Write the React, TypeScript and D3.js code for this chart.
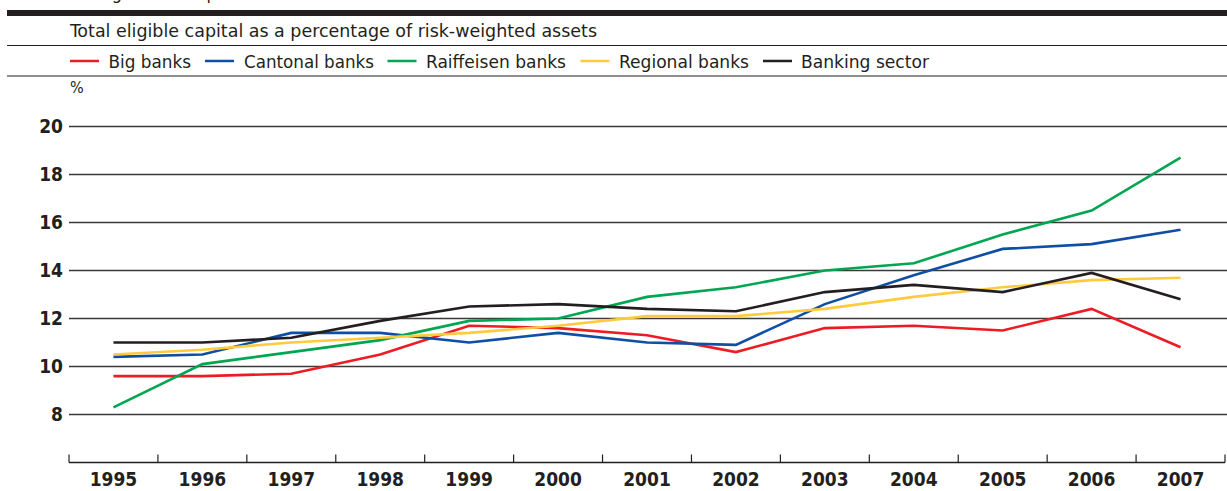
import React from "react";
import * as d3 from "d3";

const years = ["1995","1996","1997","1998","1999","2000","2001","2002","2003","2004","2005","2006","2007"];
const bigBanks = [9.6, 9.6, 9.7, 10.5, 11.7, 11.6, 11.3, 10.6, 11.6, 11.7, 11.5, 12.4, 10.8];
const cantonalBanks = [10.4, 10.5, 11.4, 11.4, 11.0, 11.4, 11.0, 10.9, 12.6, 13.8, 14.9, 15.1, 15.7];
const raiffeisenBanks = [8.3, 10.1, 10.6, 11.1, 11.9, 12.0, 12.9, 13.3, 14.0, 14.3, 15.5, 16.5, 18.7];
const regionalBanks = [10.5, 10.7, 11.0, 11.2, 11.4, 11.7, 12.1, 12.1, 12.4, 12.9, 13.3, 13.6, 13.7];
const bankingSector = [11.0, 11.0, 11.2, 11.9, 12.5, 12.6, 12.4, 12.3, 13.1, 13.4, 13.1, 13.9, 12.8];
const yTicks = [8, 10, 12, 14, 16, 18, 20];

const seriesNames = ["Big banks", "Cantonal banks", "Raiffeisen banks", "Regional banks", "Banking sector"];
const seriesValues = [bigBanks, cantonalBanks, raiffeisenBanks, regionalBanks, bankingSector];
const seriesColors = ["#ed1c24", "#0f4fa3", "#00a651", "#ffcb3d", "#231f20"];

// legend layout (line start x, text start x, text width)
const legendLayout = [
  [70, 108.5, 82.5],
  [205, 244, 130],
  [387.5, 426, 140],
  [580.5, 619, 130],
  [763, 801, 128],
];

const W = 1227;
const H = 491;
const FONT = "'DejaVu Sans Condensed', 'DejaVu Sans', sans-serif";

export default function App() {
  const x = d3.scaleBand<string>().domain(years).range([69, 1225]).padding(0);
  const y = d3.scaleLinear().domain([6, 20]).range([462.5, 126.5]);
  const line = d3
    .line<number>()
    .x((_, i) => (x(years[i]) as number) + x.bandwidth() / 2)
    .y((d) => y(d));
  const tickXs = years.map((yr) => x(yr) as number).concat([x.range()[1]]);

  return (
    <svg
      width={W}
      height={H}
      style={{ position: "absolute", left: 0, top: 0, background: "#fff" }}
      fontFamily={FONT}
    >
      {/* cut-off title */}
      <text x={7} y={-1} fontSize={18} fill="#231f20" style={{ fontStretch: "condensed" }}>
        Swiss banking sector: capital ratios
      </text>
      <rect x={7} y={10} width={W - 7} height={6} fill="#231f20" />
      <text x={70} y={37} fontSize={17.5} fill="#231f20" textLength={527} lengthAdjust="spacingAndGlyphs">
        Total eligible capital as a percentage of risk-weighted assets
      </text>
      <line x1={7} x2={W} y1={45.5} y2={45.5} stroke="#231f20" strokeWidth={1.2} />
      {seriesNames.map((name, i) => (
        <g key={name}>
          <line
            x1={legendLayout[i][0]}
            x2={legendLayout[i][0] + 29}
            y1={61}
            y2={61}
            stroke={seriesColors[i]}
            strokeWidth={2.5}
          />
          <text
            x={legendLayout[i][1]}
            y={68}
            fontSize={17}
            fill="#231f20"
            textLength={legendLayout[i][2]}
            lengthAdjust="spacingAndGlyphs"
          >
            {name}
          </text>
        </g>
      ))}
      <line x1={7} x2={W} y1={76} y2={76} stroke="#231f20" strokeWidth={1.2} />
      <text x={70} y={93} fontSize={16} fill="#231f20">%</text>

      {/* gridlines and y labels */}
      {yTicks.map((t) => (
        <g key={t}>
          <line x1={69} x2={W} y1={y(t)} y2={y(t)} stroke="#3a3a3a" strokeWidth={1.3} />
          <text
            x={63}
            y={y(t) + 6.5}
            textAnchor="end"
            fontSize={19}
            fontWeight="bold"
            fill="#231f20"
          >
            {t}
          </text>
        </g>
      ))}

      {/* x axis */}
      <line x1={69} x2={1225} y1={y(6)} y2={y(6)} stroke="#231f20" strokeWidth={1.6} />
      {tickXs.map((tx, i) => (
        <line key={i} x1={tx} x2={tx} y1={y(6)} y2={y(6) - 8} stroke="#231f20" strokeWidth={1.2} />
      ))}
      {years.map((yr) => (
        <text
          key={yr}
          x={(x(yr) as number) + x.bandwidth() / 2}
          y={486}
          textAnchor="middle"
          fontSize={19}
          fontWeight="bold"
          fill="#231f20"
        >
          {yr}
        </text>
      ))}

      {/* series lines */}
      {seriesValues.map((vals, i) => (
        <path
          key={seriesNames[i]}
          d={line(vals) as string}
          fill="none"
          stroke={seriesColors[i]}
          strokeWidth={2.6}
          strokeLinejoin="miter"
        />
      ))}
    </svg>
  );
}
